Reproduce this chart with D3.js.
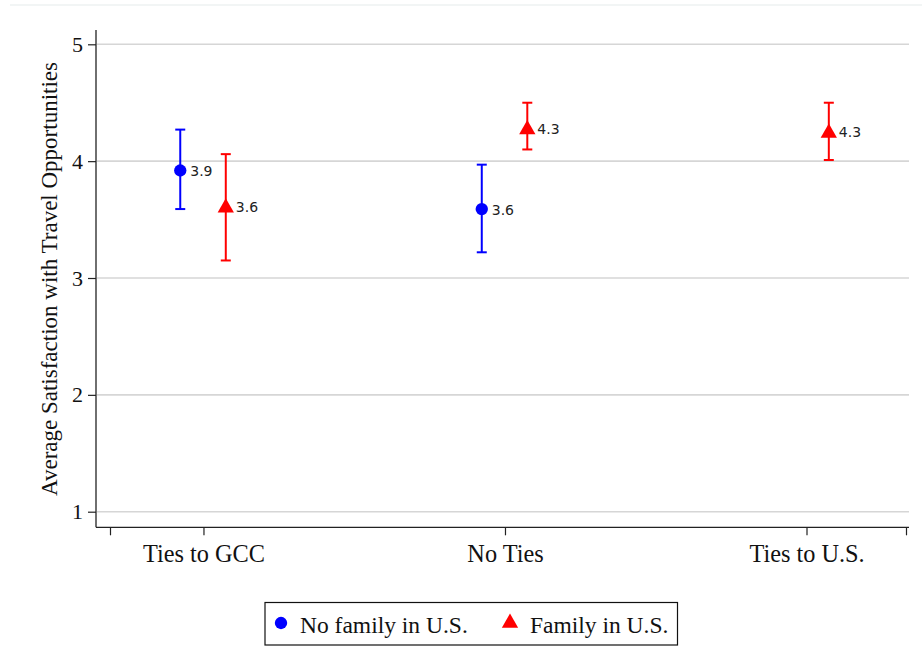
<!DOCTYPE html>
<html>
<head>
<meta charset="utf-8">
<script src="https://cdn.jsdelivr.net/npm/d3@7"></script>
<style>
  html, body { margin: 0; padding: 0; background: #fff; }
  svg { display: block; }
</style>
</head>
<body>
<svg id="chart" width="922" height="672"></svg>
<script>
// Group categories along the x axis
const categories = ["Ties to GCC", "No Ties", "Ties to U.S."];
const xTickValues = [0.69, 1, 2, 3, 3.33];

// Series: mean satisfaction and 95% confidence bounds per category (null = no estimate)
const seriesNames = ["No family in U.S.", "Family in U.S."];
const noFamilyMean  = [3.92, 3.59, null];
const noFamilyLow   = [3.59, 3.22, null];
const noFamilyHigh  = [4.27, 3.97, null];
const familyMean    = [3.61, 4.28, 4.25];
const familyLow     = [3.15, 4.10, 4.01];
const familyHigh    = [4.06, 4.50, 4.50];
const yTicks = [1, 2, 3, 4, 5];

const svg = d3.select("#chart");
const serif = "'Liberation Serif', 'Times New Roman', serif";

const x = d3.scaleLinear().domain([0.69, 3.33]).range([110, 906]);
const y = d3.scaleLinear().domain([1, 5]).range([511.7, 44.3]);

// faint frame line along the top
svg.append("line").attr("x1", 10).attr("x2", 922).attr("y1", 5).attr("y2", 5)
  .attr("stroke", "#e6ecec").attr("stroke-width", 1.2);

// horizontal grid
svg.append("g").selectAll("line").data(yTicks).join("line")
  .attr("x1", 97).attr("x2", 909)
  .attr("y1", d => y(d)).attr("y2", d => y(d))
  .attr("stroke", "#d6d6d6").attr("stroke-width", 1.6);

// y axis
const yAxis = svg.append("g").attr("transform", "translate(96,0)")
  .call(d3.axisLeft(y).tickValues(yTicks).tickSize(8).tickPadding(5).tickFormat(d3.format("d")));
yAxis.select(".domain").attr("d", "M0,30V527.3").attr("stroke", "#222").attr("stroke-width", 1.3);
yAxis.selectAll(".tick line").attr("stroke", "#222").attr("stroke-width", 1.2);
yAxis.selectAll(".tick text").attr("font-family", serif).attr("font-size", 22).attr("fill", "#111");

// x axis
const xAxis = svg.append("g").attr("transform", "translate(0,527.3)")
  .call(d3.axisBottom(x).tickValues(xTickValues).tickSize(8).tickPadding(9)
    .tickFormat(d => Number.isInteger(d) ? categories[d - 1] : ""));
xAxis.select(".domain").attr("d", "M96,0H909").attr("stroke", "#222").attr("stroke-width", 1.3);
xAxis.selectAll(".tick line").attr("stroke", "#222").attr("stroke-width", 1.2);
xAxis.selectAll(".tick text").attr("font-family", serif).attr("font-size", 24.3).attr("fill", "#111");

// axis title
svg.append("text")
  .attr("transform", "translate(57,279) rotate(-90)")
  .attr("text-anchor", "middle")
  .attr("font-family", serif).attr("font-size", 23).attr("fill", "#111")
  .text("Average Satisfaction with Travel Opportunities");

const series = [
  { name: seriesNames[0], mean: noFamilyMean, low: noFamilyLow, high: noFamilyHigh, color: "#0000ff", shape: "circle", offset: -0.077 },
  { name: seriesNames[1], mean: familyMean, low: familyLow, high: familyHigh, color: "#ff0000", shape: "triangle", offset: 0.074 }
];

const circleSym = d3.symbol().type(d3.symbolCircle).size(120);
const triSym = d3.symbol().type(d3.symbolTriangle).size(115);

series.forEach(s => {
  const pts = s.mean.map((m, i) => ({ i, m, lo: s.low[i], hi: s.high[i] })).filter(d => d.m != null);
  const g = svg.append("g");
  const cx = d => x(d.i + 1 + s.offset);
  // vertical CI line
  g.selectAll(".ci").data(pts).join("line")
    .attr("x1", cx).attr("x2", cx)
    .attr("y1", d => y(d.lo)).attr("y2", d => y(d.hi))
    .attr("stroke", s.color).attr("stroke-width", 2);
  // caps
  ["lo", "hi"].forEach(k => {
    g.selectAll(".cap-" + k).data(pts).join("line")
      .attr("x1", d => cx(d) - 5).attr("x2", d => cx(d) + 5)
      .attr("y1", d => y(d[k])).attr("y2", d => y(d[k]))
      .attr("stroke", s.color).attr("stroke-width", 2);
  });
  // markers
  g.selectAll(".mk").data(pts).join("path")
    .attr("d", s.shape === "circle" ? circleSym : triSym)
    .attr("transform", d => `translate(${cx(d)},${y(d.m) + (s.shape === "circle" ? 0 : 1)})`)
    .attr("fill", s.color);
  // value labels
  g.selectAll(".lbl").data(pts).join("text")
    .attr("x", d => cx(d) + 10).attr("y", d => y(d.m) + 5.5)
    .attr("font-family", "'DejaVu Sans', Verdana, sans-serif").attr("font-size", 14).attr("fill", "#222")
    .text(d => d.m.toFixed(1));
});

// legend
const lg = svg.append("g");
lg.append("rect").attr("x", 265).attr("y", 602.5).attr("width", 412.5).attr("height", 42.5)
  .attr("fill", "#fff").attr("stroke", "#111").attr("stroke-width", 1.2);
lg.append("path").attr("d", circleSym).attr("transform", "translate(281,623)").attr("fill", "#0000ff");
lg.append("text").attr("x", 300).attr("y", 633).attr("font-family", serif).attr("font-size", 23.5).attr("fill", "#111").text(seriesNames[0]);
lg.append("path").attr("d", triSym).attr("transform", "translate(510,623)").attr("fill", "#ff0000");
lg.append("text").attr("x", 530).attr("y", 633).attr("font-family", serif).attr("font-size", 23.5).attr("fill", "#111").text(seriesNames[1]);
</script>
</body>
</html>
